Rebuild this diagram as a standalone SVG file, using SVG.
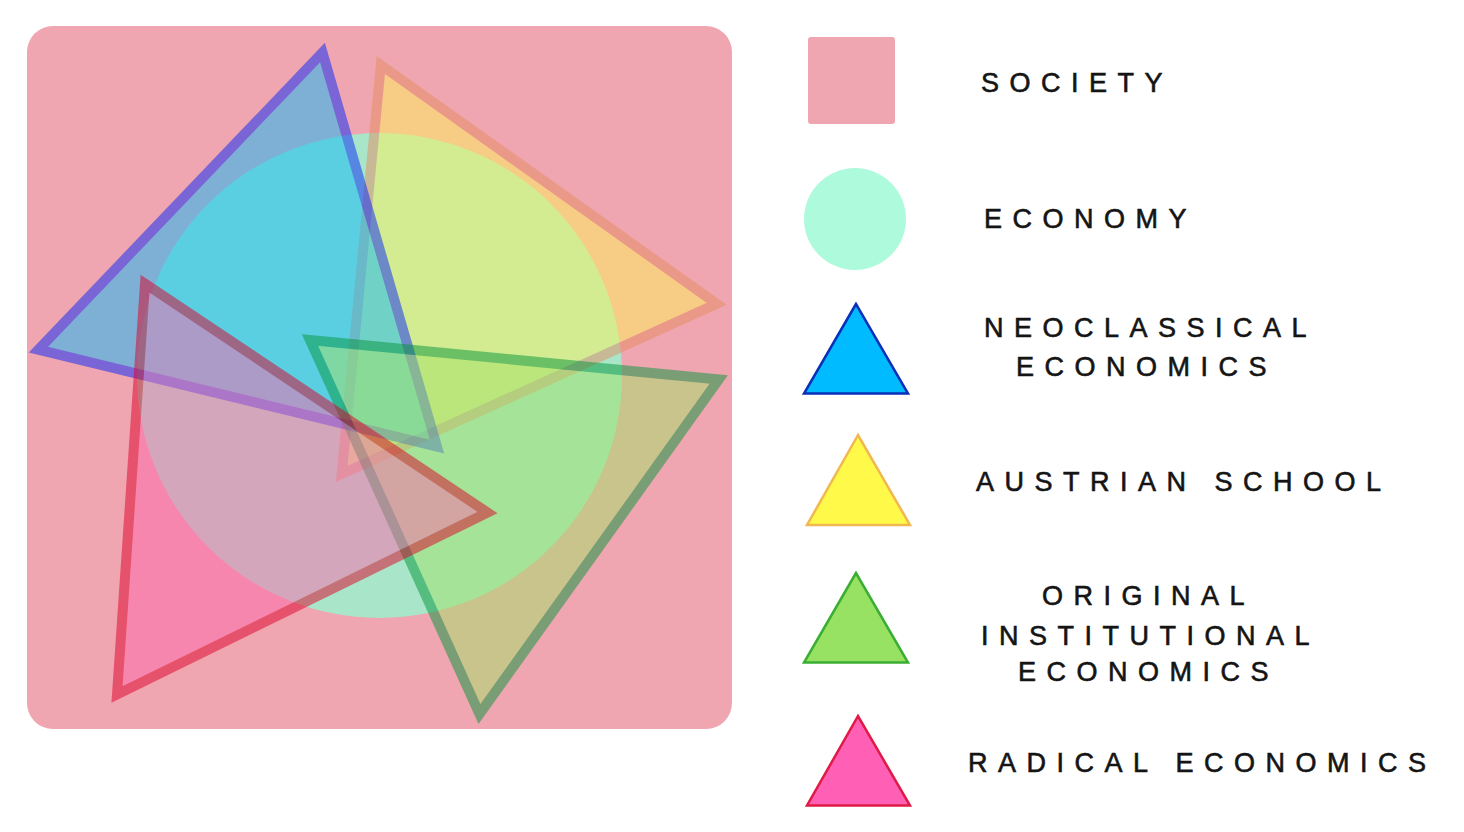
<svg xmlns="http://www.w3.org/2000/svg" width="1464" height="832" viewBox="0 0 1464 832">
  <style>
    .lbl { font-family: "Liberation Sans", Arial, sans-serif; font-size: 27px; letter-spacing: 10.5px; fill: #141414; stroke: #141414; stroke-width: 0.6px; }
    .tri { stroke-width: 10; stroke-linejoin: miter; stroke-miterlimit: 10; }
    .ltri { stroke-width: 2.5; stroke-linejoin: miter; }
  </style>
  <rect width="1464" height="832" fill="#ffffff"/>

  <g id="society">
    <rect x="27" y="26" width="705" height="703" rx="26" ry="26" fill="#EFA6B0"/>
  </g>
  <g id="economy">
    <circle cx="379.5" cy="375.5" r="242.5" fill="#A9E6C9"/>
  </g>
  <g id="austrian" opacity="0.5">
    <polygon class="tri" points="380.8,65 716.7,303.8 341.7,474" fill="#FFF25A" stroke="#E78E64"/>
  </g>
  <g id="neoclassical" opacity="0.5">
    <polygon class="tri" points="322.5,52.5 38.3,349.7 437,446.7" fill="#0FBAFC" stroke="#0726FC"/>
  </g>
  <g id="institutional" opacity="0.5">
    <polygon class="tri" points="310,340 718.8,379.5 479.5,714" fill="#A3E268" stroke="#05963C"/>
  </g>
  <g id="radical" opacity="0.5">
    <polygon class="tri" points="145,283.7 487.5,512.5 117,694.5" fill="#FF68AE" stroke="#DF0028"/>
  </g>

  <g id="connectors"></g>

  <g id="legend-society">
    <rect x="808" y="37" width="87" height="87" rx="3" fill="#EFA6B0"/>
    <text class="lbl" x="981" y="92">SOCIETY</text>
  </g>
  <g id="legend-economy">
    <circle cx="855" cy="219" r="51" fill="#ADFADD"/>
    <text class="lbl" x="984" y="228">ECONOMY</text>
  </g>
  <g id="legend-neoclassical">
    <polygon class="ltri" points="856,304 804,393.5 908,393.5" fill="#00BBFF" stroke="#0A2FB8"/>
    <text class="lbl" x="984" y="337">NEOCLASSICAL</text>
    <text class="lbl" x="1016" y="376">ECONOMICS</text>
  </g>
  <g id="legend-austrian">
    <polygon class="ltri" points="858,435 807,525 910,525" fill="#FFF94A" stroke="#F2B850"/>
    <text class="lbl" x="976" y="491">AUSTRIAN SCHOOL</text>
  </g>
  <g id="legend-institutional">
    <polygon class="ltri" points="856,573 804,662.5 908,662.5" fill="#97E263" stroke="#3AAE33"/>
    <text class="lbl" x="1042" y="605">ORIGINAL</text>
    <text class="lbl" x="981" y="645">INSTITUTIONAL</text>
    <text class="lbl" x="1018" y="681">ECONOMICS</text>
  </g>
  <g id="legend-radical">
    <polygon class="ltri" points="858,716 807,805.5 910,805.5" fill="#FF5FB5" stroke="#E01A46"/>
    <text class="lbl" x="968" y="772">RADICAL ECONOMICS</text>
  </g>
</svg>
